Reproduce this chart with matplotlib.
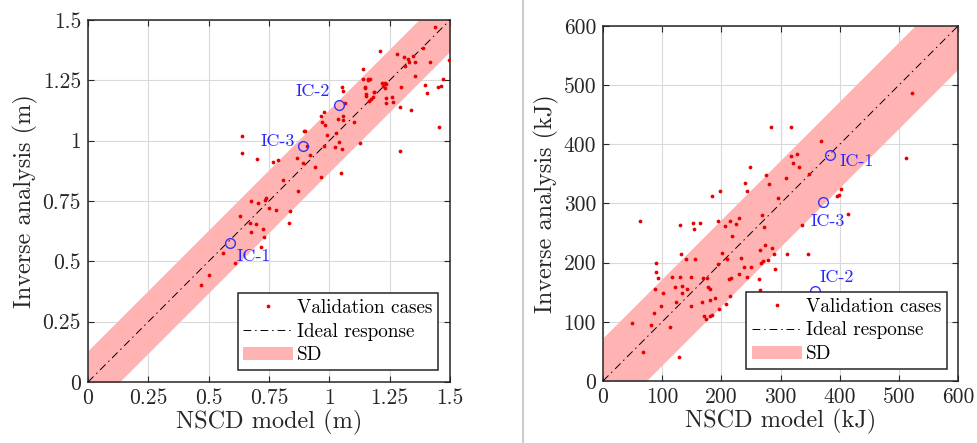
import matplotlib
matplotlib.use("Agg")
import matplotlib.pyplot as plt
import numpy as np
from matplotlib.lines import Line2D

plt.rcParams['font.family'] = ['cmr10', 'DejaVu Serif']
plt.rcParams['axes.formatter.use_mathtext'] = True
plt.rcParams['mathtext.fontset'] = 'cm'

# ---- left panel: displacement (m) ----
disp_nscd = [0.469, 0.500, 0.559, 0.607, 0.631, 0.640, 0.640, 0.672, 0.675, 0.677,
             0.697, 0.700, 0.706, 0.718, 0.724, 0.731, 0.734, 0.737, 0.752, 0.766,
             0.780, 0.787, 0.806, 0.831, 0.838, 0.865, 0.872, 0.890, 0.893, 0.898,
             0.907, 0.918, 0.941, 0.965, 0.967, 0.969, 0.976, 0.982, 0.978, 0.989,
             1.024, 1.028, 1.035, 1.042, 1.047, 1.051, 1.051, 1.058, 1.056, 1.058,
             1.065, 1.103, 1.125, 1.138, 1.141, 1.148, 1.151, 1.162, 1.169, 1.185,
             1.210, 1.217, 1.224, 1.231, 1.234, 1.236, 1.258, 1.262, 1.279, 1.293,
             1.296, 1.293, 1.311, 1.314, 1.327, 1.332, 1.337, 1.348, 1.353, 1.353,
             1.390, 1.398, 1.403, 1.417, 1.439, 1.449, 1.456, 1.461, 1.470, 1.494,
             1.148, 1.152, 1.185, 1.172, 1.182, 1.164, 1.235, 1.160, 1.229]
disp_inv = [0.401, 0.442, 0.536, 0.491, 0.687, 1.019, 0.947, 0.659, 0.622, 0.749,
            0.654, 0.924, 0.740, 0.560, 0.635, 0.601, 0.756, 0.762, 0.720, 0.911,
            0.712, 0.919, 0.835, 0.657, 0.709, 0.928, 0.791, 0.908, 1.041, 1.041,
            0.977, 0.939, 0.889, 0.850, 1.102, 1.078, 1.120, 1.065, 0.979, 1.023,
            0.975, 1.030, 1.089, 0.995, 0.867, 0.966, 1.221, 1.207, 1.102, 1.085,
            1.154, 1.077, 0.991, 1.295, 1.254, 1.221, 1.193, 1.254, 1.254, 1.203,
            1.373, 1.240, 1.226, 1.217, 1.175, 1.157, 1.182, 1.161, 1.359, 1.138,
            1.221, 0.958, 1.345, 1.309, 1.337, 1.327, 1.127, 1.351, 1.327, 1.268,
            1.383, 1.230, 1.196, 1.327, 1.470, 1.221, 1.058, 1.226, 1.254, 1.334,
            1.217, 1.185, 1.200, 1.172, 1.182, 1.164, 1.235, 1.251, 1.240]
disp_ic_x = [0.589, 1.039, 0.890]
disp_ic_y = [0.578, 1.147, 0.979]
disp_ic_names = ['IC-1', 'IC-2', 'IC-3']
disp_sd = 0.13
disp_ticks = [0, 0.25, 0.5, 0.75, 1, 1.25, 1.5]
disp_ticklabels = ['0', '0.25', '0.5', '0.75', '1', '1.25', '1.5']

# ---- right panel: energy (kJ) ----
en_nscd = [49.6, 62.5, 67.6, 80.6, 85.6, 87.3, 90.1, 90.1, 93.0, 98.0,
           101.4, 112.7, 117.2, 122.3, 123.9, 127.9, 129.6, 130.7, 132.4, 133.5,
           134.1, 140.8, 142.5, 148.2, 149.3, 152.1, 153.2, 156.1, 163.4, 167.3,
           169.0, 170.1, 173.5, 175.8, 177.5, 180.3, 180.3, 181.4, 184.2, 184.8,
           189.9, 194.4, 194.9, 196.1, 197.2, 201.1, 205.6, 208.5, 210.1, 212.4,
           214.1, 215.2, 216.3, 218.0, 225.4, 229.9, 229.9, 233.2, 237.7, 239.4,
           243.4, 243.9, 245.1, 249.0, 250.7, 263.7, 264.8, 265.9, 267.6, 269.3,
           270.4, 271.5, 274.4, 274.9, 278.9, 280.0, 283.4, 286.2, 288.5, 290.1,
           296.3, 309.9, 311.5, 318.3, 318.3, 321.1, 327.9, 330.7, 336.9, 346.5,
           347.6, 367.9, 396.1, 398.3, 402.8, 414.6, 512.1, 522.8]
en_inv = [98.0, 271.0, 49.0, 94.6, 114.4, 154.9, 198.9, 184.8, 173.5, 126.8,
          149.3, 90.7, 175.2, 158.3, 134.1, 40.6, 176.3, 263.1, 214.6, 160.6,
          148.2, 206.2, 154.9, 126.8, 175.2, 266.5, 256.3, 205.6, 267.6, 133.0,
          173.5, 110.4, 104.2, 173.5, 159.4, 154.9, 136.9, 109.9, 313.2, 111.5,
          140.8, 271.0, 197.2, 122.3, 321.1, 215.8, 262.5, 129.6, 206.2, 171.8,
          270.4, 143.7, 173.5, 245.1, 265.4, 274.9, 180.8, 207.3, 192.1, 335.2,
          175.2, 321.1, 141.4, 362.3, 192.1, 171.8, 153.8, 221.4, 200.0, 280.6,
          203.4, 260.8, 229.9, 348.2, 204.5, 332.4, 428.7, 224.2, 214.1, 189.9,
          309.3, 343.7, 214.1, 428.7, 380.3, 369.0, 383.7, 362.3, 263.1, 214.6,
          349.9, 406.2, 312.7, 314.4, 325.1, 282.3, 376.3, 486.2]
en_ic_x = [383.1, 357.7, 371.8]
en_ic_y = [382.0, 152.7, 302.0]
en_ic_names = ['IC-1', 'IC-2', 'IC-3']
en_sd = 73
en_ticks = [0, 100, 200, 300, 400, 500, 600]
en_ticklabels = ['0', '100', '200', '300', '400', '500', '600']

DARK = (0.15, 0.15, 0.15)
PINK = (1.0, 0.70, 0.70)
DOT = (0.9, 0.0, 0.0)
DASHDOT = (0, (8, 4, 1.5, 4))


def draw_panel(ax, xs, ys, sd, lim, ticks, ticklabels, ic_x, ic_y, ic_names,
               label_pos, label_ha, xlabel, ylabel, legend_anchor):
    xx = np.array([0, lim])
    ax.fill_between(xx, xx - sd, xx + sd, color=PINK, lw=0, zorder=1)
    ax.plot(xx, xx, color='black', ls=DASHDOT, lw=0.7, zorder=3)
    ax.plot(xs, ys, ls='none', marker='o', ms=2.7, mec='none', color=DOT, zorder=4)
    ax.plot(ic_x, ic_y, ls='none', marker='o', ms=7, mfc='none', mec=(0.2, 0.2, 1.0),
            mew=1.0, zorder=5)
    for name, (tx, ty), ha in zip(ic_names, label_pos, label_ha):
        ax.text(tx, ty, name, color=(0.15, 0.15, 1.0), fontsize=13, ha=ha, va='center',
                zorder=6)

    ax.set_xlim(0, lim)
    ax.set_ylim(0, lim)
    ax.set_xticks(ticks)
    ax.set_yticks(ticks)
    ax.set_xticklabels(ticklabels)
    ax.set_yticklabels(ticklabels)
    ax.tick_params(direction='in', top=True, right=True, length=4, width=0.8,
                   labelsize=15.5, colors=DARK, pad=5)
    ax.grid(True, color=(0.85, 0.85, 0.85), lw=0.8)
    ax.set_axisbelow(True)
    for s in ax.spines.values():
        s.set_linewidth(1.1)
        s.set_color(DARK)
    ax.set_xlabel(xlabel, fontsize=17.5, color=DARK, labelpad=1)
    ax.set_ylabel(ylabel, fontsize=17.5, color=DARK, labelpad=3)

    handles = [
        Line2D([], [], ls='none', marker='o', ms=2.7, mec='none', color=DOT),
        Line2D([], [], color='black', ls=DASHDOT, lw=0.7),
        plt.Rectangle((0, 0), 1, 1, color=PINK, lw=0),
    ]
    leg = ax.legend(handles, ['Validation cases', 'Ideal response', 'SD'],
                    loc='lower right', bbox_to_anchor=legend_anchor, borderaxespad=0,
                    fontsize=13.8, fancybox=False, framealpha=1, edgecolor=DARK,
                    handlelength=2.6, handletextpad=0.2, borderpad=0.3, labelspacing=0.3)
    leg.get_frame().set_linewidth(1.1)
    leg.set_zorder(10)


fig = plt.figure(figsize=(9.77, 4.43), dpi=100)
ax1 = fig.add_axes([0.0901, 0.1377, 0.3705, 0.8172])
ax2 = fig.add_axes([0.6172, 0.1400, 0.3634, 0.8014])

draw_panel(ax1, disp_nscd, disp_inv, disp_sd, 1.5, disp_ticks, disp_ticklabels,
           disp_ic_x, disp_ic_y, disp_ic_names,
           [(0.617, 0.522), (1.003, 1.203), (0.858, 0.999)], ['left', 'right', 'right'],
           'NSCD model (m)', 'Inverse analysis (m)', (0.967, 0.033))
draw_panel(ax2, en_nscd, en_inv, en_sd, 600, en_ticks, en_ticklabels,
           en_ic_x, en_ic_y, en_ic_names,
           [(400.6, 370.6), (366.8, 175.8), (351.5, 270.4)], ['left', 'left', 'left'],
           'NSCD model (kJ)', 'Inverse analysis (kJ)', (0.969, 0.034))

# grey divider between the two panels
fig.add_artist(Line2D([523 / 977, 523 / 977], [0, 1], color=(0.8, 0.8, 0.8), lw=1.5))

fig.savefig('out.png', dpi=100)
